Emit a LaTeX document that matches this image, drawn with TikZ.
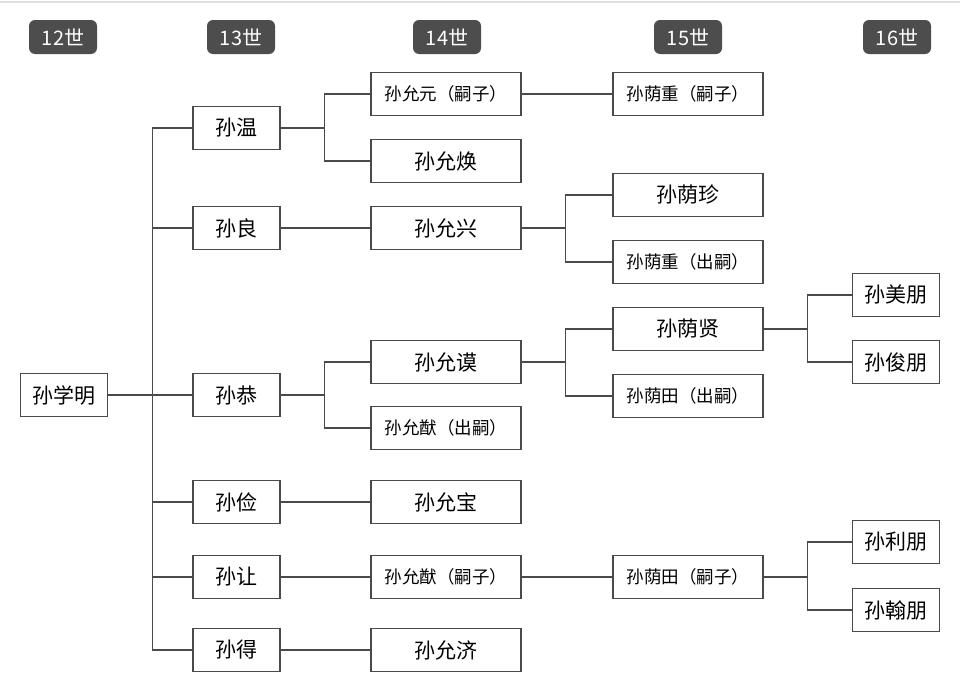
\documentclass[tikz,border=0pt]{standalone}
\usepackage{fontspec}
\newfontfamily\cjk{Noto Sans CJK SC}
\usetikzlibrary{positioning}
\definecolor{linegray}{HTML}{4A4A4A}
\definecolor{taggray}{HTML}{4D4D4D}
\tikzset{
  box/.style={draw=linegray, line width=1.4pt, fill=white, inner sep=0pt, minimum height=43pt},
  short/.style={box, minimum width=87pt, font=\cjk\fontsize{21}{21}\selectfont},
  long/.style={box, minimum width=150pt, font=\cjk\fontsize{21}{21}\selectfont},
  note/.style={long, font=\cjk\fontsize{17.5}{17.5}\selectfont},
  tag/.style={fill=taggray, rounded corners=6pt, text=white, minimum width=68pt, minimum height=34pt, inner sep=0pt, font=\cjk\fontsize{20}{20}\selectfont},
  link/.style={draw=linegray, line width=1.4pt},
}
\begin{document}
\begin{tikzpicture}[x=1pt,y=-1pt]
        \useasboundingbox[fill=white] (0,0) rectangle (960,688);
        \draw[gray!25, line width=2pt] (0,2) -- (960,2);
        % Generations
        \node (g12) at (63,37) [tag] {12世};
        \node (g13) at (241,37) [tag] {13世};
        \node (g14) at (447,37) [tag] {14世};
        \node (g15) at (688,37) [tag] {15世};
        \node (g16) at (897,37) [tag] {16世};
        % 12
        \node (xm) at (64,395) [short] {孙学明};
        % 13
        \node (wen) at (236.5,128) [short] {孙温};
        \node (liang) at (236.5,228) [short] {孙良};
        \node (gong) at (236.5,395) [short] {孙恭};
        \node (jian) at (236.5,502) [short] {孙俭};
        \node (rang) at (236.5,577) [short] {孙让};
        \node (de) at (236.5,650) [short] {孙得};
        % 14
        \node (yyuan) at (446,94) [note] {孙允元（嗣子）};
        \node (yhuan) at (446,161) [long] {孙允焕};
        \node (yxing) at (446,228) [long] {孙允兴};
        \node (ymo) at (446,362) [long] {孙允谟};
        \node (yyou) at (446,428) [note] {孙允猷（出嗣）};
        \node (ybao) at (446,502) [long] {孙允宝};
        \node (yyou2) at (446,577) [note] {孙允猷（嗣子）};
        \node (yji) at (446,650) [long] {孙允济};
        % 15
        \node (zhong) at (688,94) [note] {孙荫重（嗣子）};
        \node (zzhen) at (688,195) [long] {孙荫珍};
        \node (zhong2) at (688,262) [note] {孙荫重（出嗣）};
        \node (zxian) at (688,329) [long] {孙荫贤};
        \node (ztian) at (688,396) [note] {孙荫田（出嗣）};
        \node (ztian2) at (688,577) [note] {孙荫田（嗣子）};
        % 16
        \node (mei) at (896,295) [short] {孙美朋};
        \node (jun) at (896,362) [short] {孙俊朋};
        \node (li) at (896,542) [short] {孙利朋};
        \node (han) at (896,610) [short] {孙翰朋};
        % Edges
        \foreach \p/\c in {xm/wen, xm/liang, xm/gong, xm/jian, xm/rang, xm/de,
            wen/yyuan, wen/yhuan, liang/yxing, gong/ymo, gong/yyou, jian/ybao, rang/yyou2, de/yji,
            yyuan/zhong, yxing/zzhen, yxing/zhong2, ymo/zxian, ymo/ztian, yyou2/ztian2,
            zxian/mei, zxian/jun, ztian2/li, ztian2/han} {
            \draw[link] (\p.east) -- ++(44pt,0) |- (\c.west);
        }
    \end{tikzpicture}
\end{document}
